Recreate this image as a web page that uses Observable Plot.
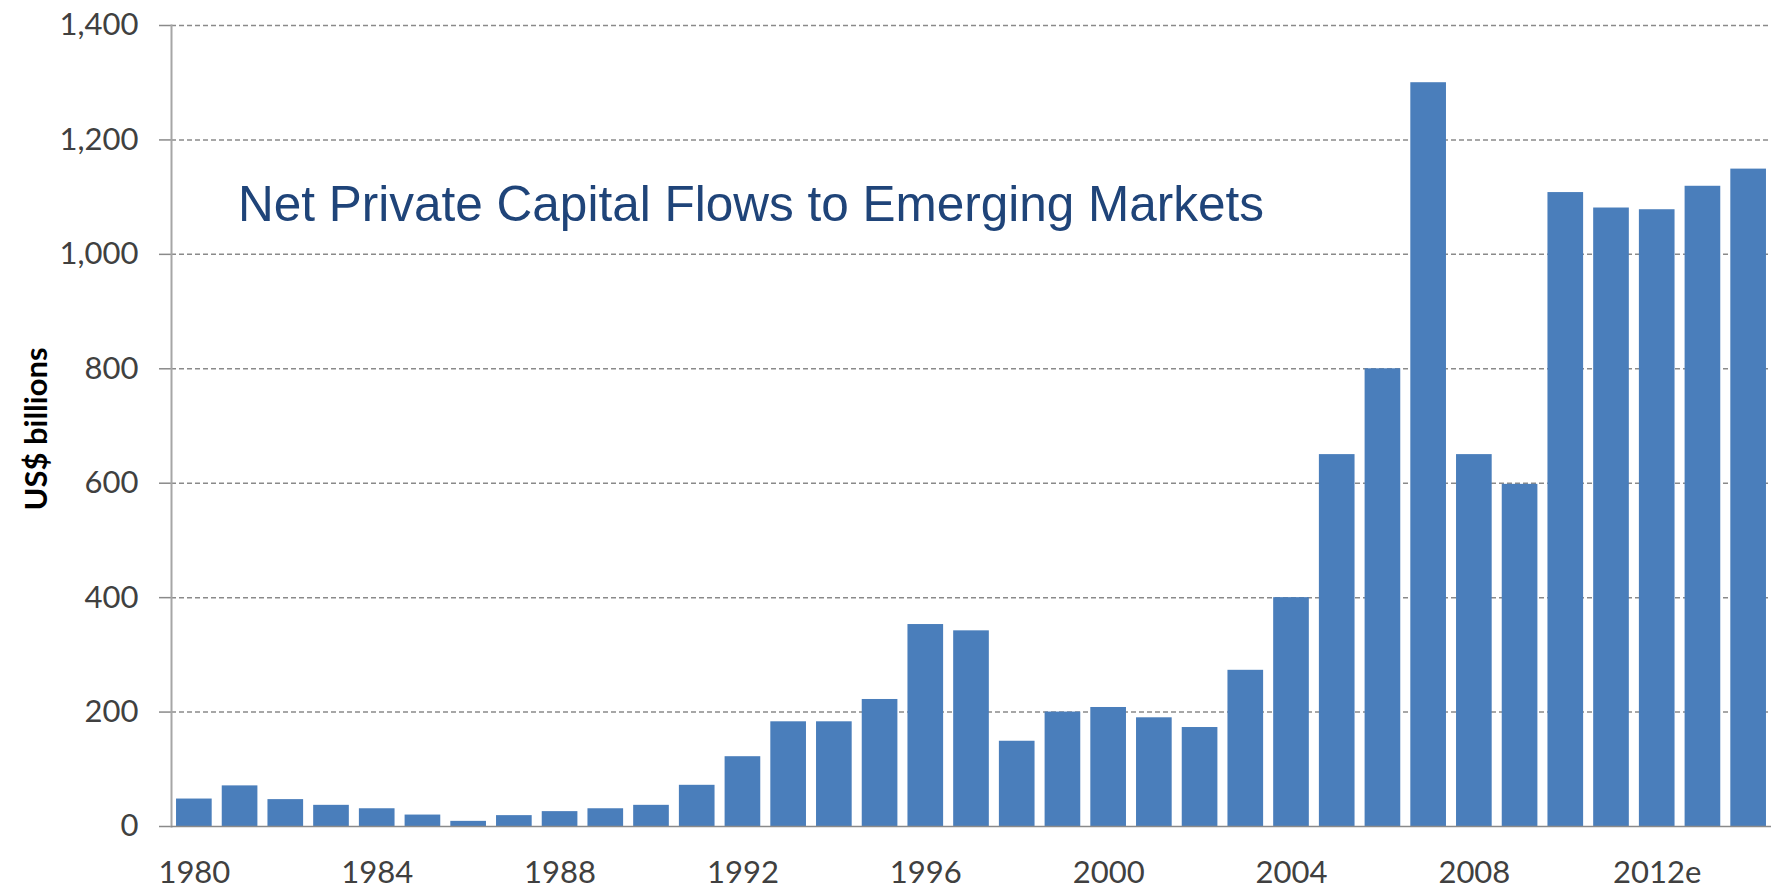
<!DOCTYPE html>
<html>
<head>
<meta charset="utf-8">
<script src="https://cdn.jsdelivr.net/npm/d3@7"></script>
<script src="https://cdn.jsdelivr.net/npm/@observablehq/plot@0.6"></script>
<style>
  html, body { margin: 0; padding: 0; background: #ffffff; }
  #wrap { position: relative; width: 1771px; height: 890px; overflow: hidden; }
  #title {
    position: absolute; left: 238px; top: 179px; margin: 0;
    font-family: "Liberation Sans", Arial, sans-serif; font-weight: normal;
    font-size: 49.5px; color: #1F4479; white-space: nowrap; line-height: 1;
  }
  #ylabel {
    position: absolute; left: 35px; top: 429px;
    transform: translate(-50%, -50%) rotate(-90deg);
    font-family: Lato, "Open Sans", sans-serif; font-weight: bold;
    font-size: 31px; color: #000; white-space: nowrap;
  }
</style>
</head>
<body>
<div id="wrap">
  <div id="chart"></div>
  <div id="title">Net Private Capital Flows to Emerging Markets</div>
  <div id="ylabel">US$ billions</div>
</div>
<script>
// Categories (years); 2012 is an estimate
const years = ["1980","1981","1982","1983","1984","1985","1986","1987","1988","1989",
  "1990","1991","1992","1993","1994","1995","1996","1997","1998","1999",
  "2000","2001","2002","2003","2004","2005","2006","2007","2008","2009",
  "2010","2011","2012e","2013","2014"];
// Net private capital flows, US$ billions
const flows = [48, 71, 47, 37, 31, 20, 9, 19, 26, 31,
  37, 72, 122, 183, 183, 222, 353, 342, 149, 200,
  208, 190, 173, 273, 400, 650, 800, 1300, 650, 598,
  1108, 1081, 1078, 1119, 1149];
// Labelled x ticks
const xTicks = ["1980","1984","1988","1992","1996","2000","2004","2008","2012e"];
// y ticks
const yTicks = [0, 200, 400, 600, 800, 1000, 1200, 1400];

const data = years.map((y, i) => ({year: y, value: flows[i]}));

const chart = Plot.plot({
  width: 1771,
  height: 890,
  marginLeft: 171,
  marginRight: 0,
  marginTop: 25,
  marginBottom: 64,
  style: {fontFamily: "Lato, 'Open Sans', sans-serif", fontSize: "31px", color: "#404040", background: "#ffffff"},
  x: {type: "band", domain: years, paddingInner: 0.22, paddingOuter: 0.11, round: false, label: null},
  y: {domain: [0, 1400], label: null},
  marks: [
    Plot.ruleY(yTicks.filter(d => d > 0), {stroke: "#8a8a8a", strokeWidth: 1.5, strokeDasharray: "5,3"}),
    Plot.barY(data, {x: "year", y: "value", fill: "#4A7EBB"}),
    Plot.axisY({ticks: yTicks, tickFormat: d3.format(","), tickSize: 12, tickPadding: 21, stroke: "#8a8a8a", strokeWidth: 1.5, label: null, fill: "#404040"}),
    Plot.axisX({ticks: xTicks, tickSize: 0, tickPadding: 34, label: null, fill: "#404040"}),
    Plot.frame({anchor: "left", stroke: "#a6a6a6", strokeWidth: 2}),
    Plot.ruleY([0], {stroke: "#8a8a8a", strokeWidth: 1.5})
  ]
});
document.getElementById("chart").appendChild(chart);
</script>
</body>
</html>
